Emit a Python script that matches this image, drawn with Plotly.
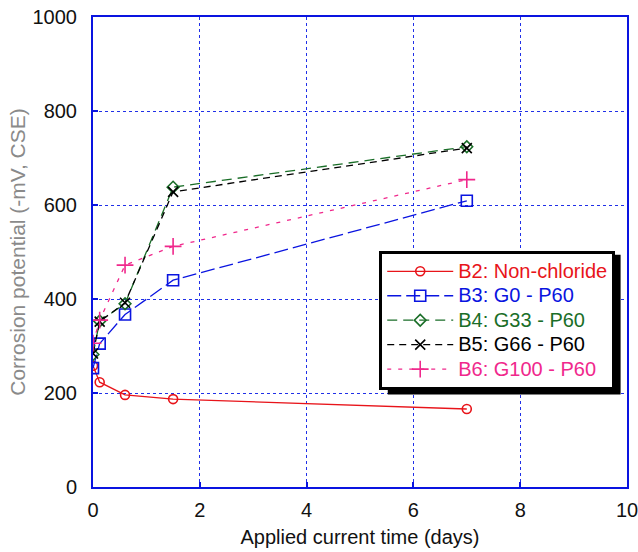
import plotly.graph_objects as go

days = [0, 0.125, 0.6, 1.5, 7]
b2 = [258, 223, 196, 187, 166]
b3 = [253, 305, 367, 440, 609]
b4 = [282, 353, 390, 638, 724]
b5 = [284, 352, 392, 628, 721]
b6 = [306, 355, 472, 512, 654]

names = ["B2: Non-chloride", "B3: G0 - P60", "B4: G33 - P60", "B5: G66 - P60", "B6: G100 - P60"]
series = [b2, b3, b4, b5, b6]
colors = ["#e8141a", "#0a14e0", "#1a6e28", "#000000", "#f0288c"]
symbols = ["circle-open", "square-open", "diamond-open", "x-thin-open", "cross-thin-open"]
dashes = ["solid", "14px,5px", "10px,6px", "7px,5px", "4px,7px"]
sizes = [9, 11, 9, 10, 12]

FONT = "Liberation Sans, Arial"

fig = go.Figure()
for n, s, c, sym, d, sz in zip(names, series, colors, symbols, dashes, sizes):
    fig.add_trace(go.Scatter(
        x=days, y=s, mode="lines+markers",
        name=f'<span style="color:{c};font-size:20px">{n}</span>',
        line=dict(color=c, width=1.3, dash=d),
        marker=dict(symbol=sym, size=sz, color=c, line=dict(color=c, width=1.6)),
    ))

axis_common = dict(
    showline=True, linecolor="#0a14e0", linewidth=2, mirror=True,
    showgrid=True, gridcolor="#2030e8", griddash="dot", gridwidth=1,
    ticks="inside", ticklen=5, tickcolor="#0a14e0", tickwidth=1.5,
    zeroline=False, automargin=False, ticklabeloverflow="allow",
    tickfont=dict(family=FONT, size=20, color="#111"),
)

fig.update_xaxes(range=[0, 10], dtick=2, ticklabelstandoff=4, **axis_common,
                 title=dict(text="Applied current time (days)", standoff=10,
                            font=dict(family=FONT, size=20, color="#111")))
fig.update_yaxes(range=[0, 1000], dtick=200, ticklabelstandoff=10, **axis_common,
                 title=dict(text="Corrosion potential (-mV, CSE)", standoff=1,
                            font=dict(family=FONT, size=21, color="#8a8a8a")))

fig.add_shape(type="rect", xref="paper", yref="paper",
              x0=0.552, x1=0.988, y0=0.197, y1=0.494,
              fillcolor="black", line=dict(width=0), layer="above")

fig.update_layout(
    width=638, height=552,
    margin=dict(l=93, r=11, t=17, b=65),
    paper_bgcolor="white", plot_bgcolor="white",
    showlegend=True,
    legend=dict(x=0.536, y=0.502, xanchor="left", yanchor="top",
                bgcolor="white", bordercolor="black", borderwidth=3,
                font=dict(family=FONT, size=16.5),
                tracegroupgap=0, itemwidth=66),
)

fig.write_html("out.html", config={"displayModeBar": False},
               post_script="document.body.style.margin='0px';")
